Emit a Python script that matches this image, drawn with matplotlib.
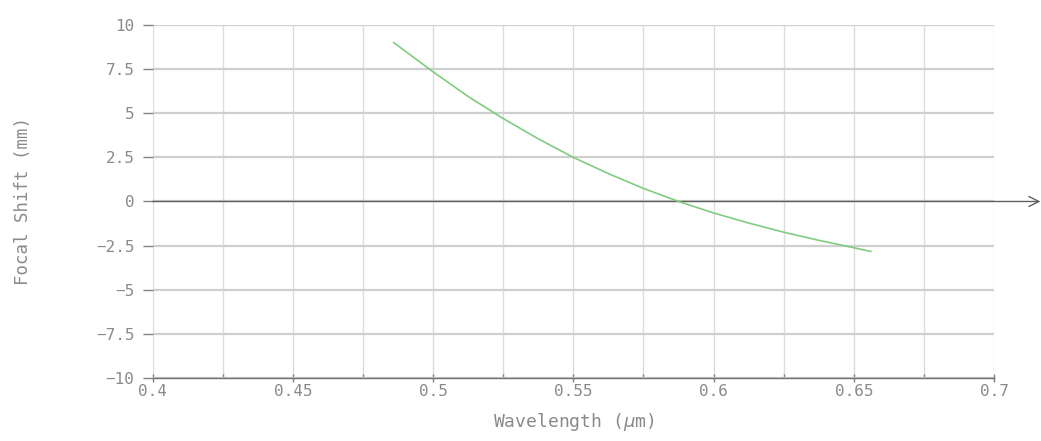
import numpy as np
import matplotlib.pyplot as plt
from matplotlib.ticker import MultipleLocator, FuncFormatter

# wavelength (um) vs focal shift (mm)
wavelength = [0.486, 0.5, 0.5125, 0.525, 0.5375, 0.55, 0.5625, 0.575,
              0.5876, 0.6, 0.6125, 0.625, 0.6375, 0.65, 0.656]
focal_shift = [9.0, 7.35, 5.95, 4.7, 3.55, 2.5, 1.58, 0.74,
               0.0, -0.65, -1.22, -1.74, -2.2, -2.62, -2.83]

xticks = [0.4, 0.45, 0.5, 0.55, 0.6, 0.65, 0.7]
yticks = [-10, -7.5, -5, -2.5, 0, 2.5, 5, 7.5, 10]

txt = '#8a8a8a'
plt.rcParams['font.family'] = ['DejaVu Sans Mono', 'DejaVu Sans']

fig = plt.figure(figsize=(10.41, 4.41), dpi=100)
ax = fig.add_axes([0.1465, 0.1429, 0.8085, 0.8004])

ax.set_xlim(0.4, 0.7)
ax.set_ylim(-10, 10)

for s in ['top', 'right', 'left']:
    ax.spines[s].set_visible(False)
ax.spines['bottom'].set_color('#707070')
ax.spines['bottom'].set_linewidth(1.0)

ax.set_xticks(xticks)
ax.xaxis.set_minor_locator(MultipleLocator(0.025))
ax.set_yticks(yticks)
ax.xaxis.set_major_formatter(FuncFormatter(lambda v, p: f'{v:g}'))
ax.yaxis.set_major_formatter(FuncFormatter(lambda v, p: f'{v:g}'.replace('-', '\u2212')))

ax.tick_params(axis='y', length=7, width=1.0, color='#808080', labelcolor=txt,
               labelsize=11.5, pad=6)
ax.tick_params(axis='x', which='major', direction='inout', length=6, width=1.0,
               color='#808080', labelcolor=txt, labelsize=11.5, pad=1)
ax.tick_params(axis='x', which='minor', direction='in', length=3, width=1.0,
               color='#808080')

# grid
ax.grid(axis='y', color='#cfcfcf', linewidth=1.6)
ax.grid(axis='x', which='both', color='#dcdcdc', linewidth=1.0)
ax.set_axisbelow(True)

ax.plot(wavelength, focal_shift, color='#80cc80', linewidth=1.2, zorder=3)

# zero axis with open arrow past the right edge
ax.annotate('', xy=(1.055, 0.5), xycoords='axes fraction',
            xytext=(0.0, 0.5), textcoords='axes fraction',
            arrowprops=dict(arrowstyle='->', color='#606060', lw=1.0,
                            mutation_scale=18, shrinkA=0, shrinkB=0),
            annotation_clip=False, zorder=2)

ax.set_xlabel('Wavelength ($\\mu$m)', color=txt, fontsize=13, labelpad=9)
ax.set_ylabel('Focal Shift (mm)', color=txt, fontsize=12.5, labelpad=0)
ax.yaxis.set_label_coords(-0.143, 0.5)

fig.savefig('out.png', dpi=100)
